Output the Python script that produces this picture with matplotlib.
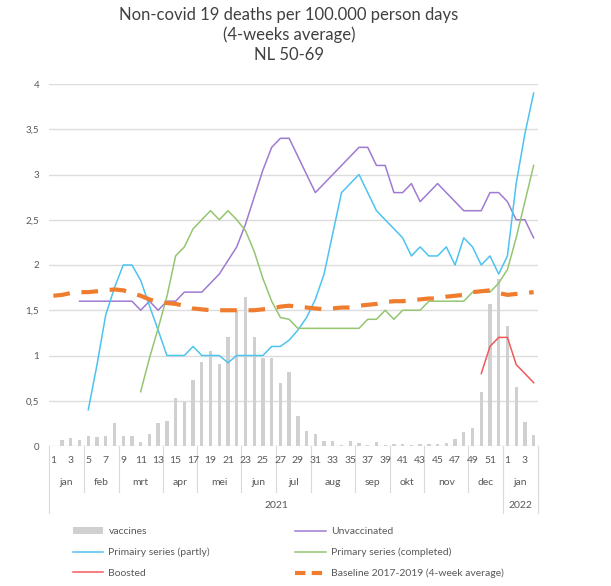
import numpy as np
import matplotlib
matplotlib.use('Agg')
import matplotlib.pyplot as plt
from matplotlib.lines import Line2D
from matplotlib.patches import Patch
import matplotlib.transforms as mtransforms

plt.rcParams['font.family'] = ['Lato', 'DejaVu Sans']

# week numbers: 2021 wk1-52, 2022 wk1-4
week_labels = list(range(1, 53)) + [1, 2, 3, 4]
months = ['jan', 'feb', 'mrt', 'apr', 'mei', 'jun', 'jul', 'aug', 'sep', 'okt', 'nov', 'dec', 'jan']
month_weeks = [4, 4, 5, 4, 5, 4, 4, 5, 4, 4, 5, 4, 4]
years = ['2021', '2022']
year_weeks = [52, 4]

vaccines = [0, 0.07, 0.09, 0.07, 0.11, 0.10, 0.11, 0.25, 0.11, 0.11,
            0.04, 0.13, 0.25, 0.28, 0.53, 0.49, 0.73, 0.93, 1.05, 0.91,
            1.2, 1.5, 1.65, 1.2, 0.97, 0.97, 0.70, 0.82, 0.33, 0.17,
            0.13, 0.05, 0.05, 0.01, 0.05, 0.03, 0.01, 0.04, 0.01, 0.02,
            0.02, 0.01, 0.02, 0.02, 0.02, 0.03, 0.08, 0.15, 0.2, 0.6,
            1.57, 1.85, 1.33, 0.65, 0.26, 0.12]

unvaccinated = [None, None, None, 1.6, 1.6, 1.6, 1.6, 1.6, 1.6, 1.6,
                1.5, 1.6, 1.5, 1.6, 1.6, 1.7, 1.7, 1.7, 1.8, 1.9,
                2.05, 2.2, 2.45, 2.75, 3.05, 3.3, 3.4, 3.4, 3.2, 3.0,
                2.8, 2.9, 3.0, 3.1, 3.2, 3.3, 3.3, 3.1, 3.1, 2.8,
                2.8, 2.9, 2.7, 2.8, 2.9, 2.8, 2.7, 2.6, 2.6, 2.6,
                2.8, 2.8, 2.7, 2.5, 2.5, 2.3]

partly = [None, None, None, None, 0.4, 0.9, 1.45, 1.75, 2.0, 2.0,
          1.83, 1.55, 1.28, 1.0, 1.0, 1.0, 1.1, 1.0, 1.0, 1.0,
          0.92, 1.0, 1.0, 1.0, 1.0, 1.1, 1.1, 1.17, 1.28, 1.42,
          1.62, 1.9, 2.35, 2.8, 2.9, 3.0, 2.8, 2.6, 2.5, 2.4,
          2.3, 2.1, 2.2, 2.1, 2.1, 2.2, 2.0, 2.3, 2.2, 2.0,
          2.1, 1.9, 2.1, 2.9, 3.45, 3.9]

completed = [None, None, None, None, None, None, None, None, None, None,
             0.6, 0.97, 1.3, 1.65, 2.1, 2.2, 2.4, 2.5, 2.6, 2.5,
             2.6, 2.5, 2.38, 2.15, 1.85, 1.6, 1.42, 1.4, 1.3, 1.3,
             1.3, 1.3, 1.3, 1.3, 1.3, 1.3, 1.4, 1.4, 1.5, 1.4,
             1.5, 1.5, 1.5, 1.6, 1.6, 1.6, 1.6, 1.6, 1.7, 1.7,
             1.7, 1.8, 1.95, 2.3, 2.7, 3.1]

boosted = [None] * 49 + [0.8, 1.1, 1.2, 1.2, 0.9, 0.8, 0.7]

baseline = [1.66, 1.67, 1.69, 1.7, 1.7, 1.71, 1.72, 1.73, 1.72, 1.69,
            1.66, 1.62, 1.59, 1.58, 1.57, 1.55, 1.52, 1.51, 1.5, 1.5,
            1.5, 1.5, 1.5, 1.5, 1.51, 1.52, 1.54, 1.55, 1.54, 1.53,
            1.52, 1.51, 1.52, 1.53, 1.53, 1.55, 1.56, 1.57, 1.59, 1.6,
            1.6, 1.61, 1.62, 1.63, 1.63, 1.65, 1.66, 1.67, 1.7, 1.71,
            1.72, 1.69, 1.67, 1.68, 1.69, 1.7]

c_bar = '#D0D0D0'
c_unvac = '#9E7BD1'
c_partly = '#4DC3F0'
c_compl = '#95C571'
c_boost = '#F2585B'
c_base = '#F07C2E'
c_text = '#595959'

def arr(v):
    return np.array([np.nan if a is None else a for a in v], dtype=float)

x = np.arange(len(week_labels))

fig = plt.figure(figsize=(6.11, 5.86), dpi=100)
ax = fig.add_axes([49 / 611, 140 / 586, 489 / 611, 362 / 586])

ax.bar(x, vaccines, width=0.38, color=c_bar, zorder=2)
ax.plot(x, arr(unvaccinated), color=c_unvac, lw=1.1, zorder=3)
ax.plot(x, arr(partly), color=c_partly, lw=1.1, zorder=3)
ax.plot(x, arr(completed), color=c_compl, lw=1.1, zorder=3)
ax.plot(x, arr(boosted), color=c_boost, lw=1.1, zorder=3)
ax.plot(x, arr(baseline), color=c_base, lw=3, dashes=(4, 2.8), zorder=4)

ax.set_xlim(-0.5, len(x) - 0.5)
ax.set_ylim(0, 4)
yt = np.arange(0, 4.01, 0.5)
ax.set_yticks(yt)
ax.set_yticklabels([f'{v:g}'.replace('.', ',') for v in yt])
ax.tick_params(axis='y', length=0, pad=7, labelsize=7, labelcolor=c_text)
ax.set_xticks([])
ax.grid(axis='y', color='#DCDCDC', lw=1)
ax.set_axisbelow(True)
for s in ax.spines.values():
    s.set_visible(False)

# multi level category axis
trans = mtransforms.blended_transform_factory(ax.transData, ax.transAxes)
for i, w in enumerate(week_labels):
    if i % 2 == 0:
        ax.text(i, -0.041, str(w), transform=trans, ha='center', va='center',
                fontsize=7.5, color=c_text)

sep_kw = dict(transform=trans, color='#D9D9D9', lw=0.8, clip_on=False)
start = 0
for m, n in zip(months, month_weeks):
    ax.text(start + n / 2 - 0.5, -0.102, m, transform=trans, ha='center', va='center',
            fontsize=7.5, color=c_text)
    ax.add_line(Line2D([start + n - 0.5] * 2, [0, -0.127], **sep_kw))
    start += n

start = 0
ax.add_line(Line2D([-0.5, -0.5], [0, -0.185], **sep_kw))
for yname, n in zip(years, year_weeks):
    ax.text(start + n / 2 - 0.5, -0.165, yname, transform=trans, ha='center', va='center',
            fontsize=7.5, color=c_text)
    ax.add_line(Line2D([start + n - 0.5] * 2, [0, -0.185], **sep_kw))
    start += n

# title
title_lines = ['Non-covid 19 deaths per 100.000 person days', '(4-weeks average)', 'NL 50-69']
for k, t in enumerate(title_lines):
    fig.text(289 / 611, 1 - (15 + 20 * k) / 586, t, ha='center', va='center',
             fontsize=12, color='#404040')

handles = [Patch(facecolor=c_bar, edgecolor='none'),
           Line2D([], [], color=c_partly, lw=1.1),
           Line2D([], [], color=c_boost, lw=1.1),
           Line2D([], [], color=c_unvac, lw=1.1),
           Line2D([], [], color=c_compl, lw=1.1),
           Line2D([], [], color=c_base, lw=3, dashes=(2.5, 1.5))]
labels = ['vaccines', 'Primairy series (partly)', 'Boosted',
          'Unvaccinated', 'Primary series (completed)', 'Baseline 2017-2019 (4-week average)']
fig.legend(handles, labels, ncol=2, loc='upper left', bbox_to_anchor=(73 / 611, 1 - 527 / 586),
           frameon=False, fontsize=7.5, borderpad=0, borderaxespad=0, handlelength=2.9,
           handletextpad=0.5, labelspacing=1.1, columnspacing=8.2, labelcolor=c_text)

fig.savefig('out.png', dpi=100)
